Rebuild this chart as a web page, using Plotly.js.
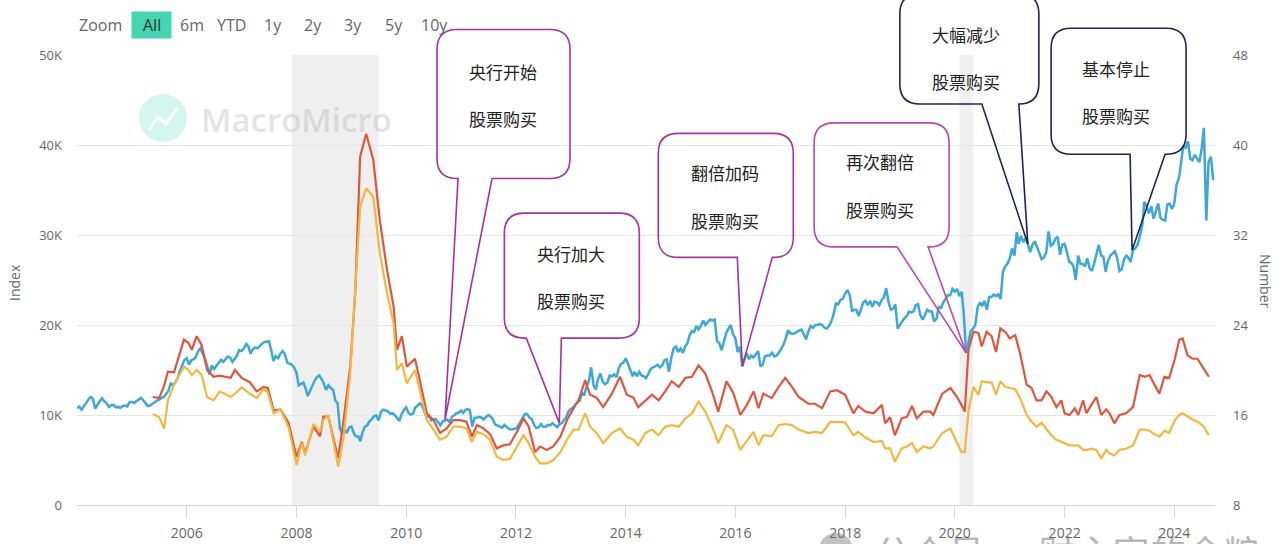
<!DOCTYPE html>
<html>
<head>
<meta charset="utf-8">
<script src="https://cdn.plot.ly/plotly-3.0.1.min.js"></script>
<style>
html,body{margin:0;padding:0;background:#ffffff;}
#chart{width:1280px;height:544px;}
</style>
</head>
<body>
<div id="chart"></div>
<script>
// ---------------- DATA ----------------
// Index (left axis): semi-monthly readings (1st and 16th of each month), Jan 2004 - Sep 2024
const blueValues = [
  // 2004
  10750,10950,10600,11000,11300,11700,12000,11800,10700,11200,11550,11850,11500,11300,10900,11100,11100,10850,10900,10800,11000,11050,10950,11450,
  // 2005
  11450,11350,11550,11700,11900,11650,11300,11000,11050,11250,11400,11600,11700,11900,12000,12400,12700,13500,13300,13600,14100,14900,15500,16100,
  // 2006
  16300,15600,16100,16200,16400,17050,17400,16900,16300,15450,14500,15500,15100,15450,15800,16150,15900,16150,16500,16400,15900,16250,16600,17200,
  // 2007
  17100,17400,17900,17600,16800,17300,17500,17400,17700,17900,18100,18150,18200,17250,16000,16550,16300,16800,17100,16750,15800,15700,15600,15300,
  // 2008
  14700,13300,13500,13600,13000,12100,12700,13300,13800,14200,14400,14000,13500,12800,13300,13000,12800,11600,11300,8500,7900,8400,8000,8600,
  // 2009
  8700,8000,7600,7600,7100,8100,8700,8850,9300,9550,9900,9950,9400,10350,10600,10500,10400,10150,10200,10000,9700,9350,10100,10550,
  // 2010
  10850,10200,10050,10150,10800,11100,11300,11050,10300,9750,9900,9400,9500,9550,9200,8850,9300,9400,9500,9200,9800,9950,10200,10250,
  // 2011
  10500,10250,10600,10650,10500,8700,9700,9700,9800,9700,9500,9800,10000,9850,9500,8950,8800,8700,8600,8900,8700,8450,8400,8450,
  // 2012
  8500,8800,9200,9700,10100,10100,9700,9550,8900,8550,8650,9000,8700,8700,8900,8850,9100,8850,8650,8950,9100,9450,9750,10400,
  // 2013
  10700,10800,11200,11400,11600,12400,12300,13200,13800,15300,13300,12800,14000,14600,13700,13400,13600,14400,14300,14500,14200,15200,15700,15800,
  // 2014
  16300,15700,14900,14300,14800,14300,14800,14400,14300,14100,14600,15100,15300,15400,15600,15300,15500,16100,16200,14800,16400,17400,17600,17000,
  // 2015
  17400,16900,17600,18000,18800,19300,19200,19900,19500,19900,20500,20000,20300,20600,20500,20600,18200,18000,17200,18300,19100,19600,20000,19000,
  // 2016
  18500,17000,17600,15400,16100,16900,16200,16600,16400,16700,17100,15400,15600,16500,16600,16600,16900,16500,16600,16900,17400,17800,18500,19400,
  // 2017
  19100,19000,19100,19300,19400,19500,18900,18400,19300,19900,19700,20000,20000,20100,20000,19700,19600,19900,20400,21200,22400,22300,22800,22900,
  // 2018
  23500,23900,23300,21500,21700,21700,21000,21800,22500,22700,22200,22700,22000,22600,22500,22200,22800,23100,24100,22600,21700,21800,22300,19600,
  // 2019
  20000,20400,20800,21000,21500,21400,21500,22200,22300,21100,20600,21100,21700,21500,21500,20400,20700,22000,21900,22500,22900,23300,23300,24000,
  // 2020
  23700,24000,23200,23700,21100,16900,18100,19300,19600,20000,22000,22500,22100,22700,21700,23100,23100,23400,23200,23400,22900,25900,26500,26800,
  // 2021
  27400,28500,27700,30300,29000,29900,29200,29700,29000,28100,28900,29300,28700,28000,27300,27500,28100,30400,28800,29000,29600,29800,27800,28900,
  // 2022
  29000,28100,27000,26900,26500,25000,27700,26800,26800,26500,27400,26300,26000,26800,27800,28900,27700,27600,25900,27100,27700,28000,28200,27500,
  // 2023
  26000,26200,27300,27700,27500,27000,28300,28500,28900,29800,31000,33700,33200,32400,33200,31800,32700,33500,31900,31700,31600,33400,33500,32900,
  // 2024
  33500,35600,36300,38500,39900,39700,40400,38500,38300,38900,38500,38100,39600,41900,31600,38100,38700,36100
];
const blueDates = blueValues.map((_, i) => {
  const yr = 2004 + Math.floor(i / 24);
  const mo = Math.floor((i % 24) / 2) + 1;
  return yr + '-' + String(mo).padStart(2, '0') + '-' + (i % 2 === 0 ? '01' : '16');
});

// Number (right axis): two series sampled on the same dates
const ratioDates = ["2005-05-20","2005-07-01","2005-08-03","2005-08-28","2005-10-08","2005-12-13","2006-01-12","2006-02-03","2006-03-08","2006-04-10",
"2006-05-16","2006-06-28","2006-08-08","2006-10-20","2006-11-18","2007-01-01","2007-02-25","2007-04-12","2007-05-26","2007-06-24",
"2007-08-03","2007-09-16","2007-11-10","2008-01-01","2008-02-06","2008-02-28","2008-04-23","2008-06-06","2008-06-28","2008-07-31",
"2008-10-05","2008-11-10","2008-12-24","2009-01-26","2009-02-28","2009-04-09","2009-05-26","2009-07-09","2009-08-26","2009-10-09",
"2009-10-31","2009-12-03","2010-01-05","2010-02-28","2010-04-01","2010-05-18","2010-07-01","2010-08-14","2010-09-27","2010-11-10",
"2010-12-24","2011-02-06","2011-03-14","2011-04-16","2011-05-30","2011-07-13","2011-08-26","2011-10-09","2011-11-22","2012-01-12",
"2012-02-21","2012-03-25","2012-05-08","2012-06-10","2012-07-24","2012-09-06","2012-10-23","2012-12-06","2013-01-19","2013-02-21",
"2013-04-06","2013-05-08","2013-06-21","2013-08-04","2013-10-01","2013-11-24","2014-01-08","2014-02-21","2014-03-25","2014-05-12",
"2014-06-25","2014-08-08","2014-09-21","2014-11-03","2014-12-20","2015-02-03","2015-03-18","2015-05-01","2015-06-14","2015-07-27",
"2015-09-09","2015-11-03","2015-12-17","2016-02-03","2016-03-18","2016-05-01","2016-06-03","2016-07-05","2016-08-29","2016-10-15",
"2016-11-28","2017-01-12","2017-02-25","2017-05-01","2017-06-14","2017-07-31","2017-09-24","2017-11-07","2018-01-01","2018-02-25",
"2018-03-29","2018-05-16","2018-07-09","2018-09-02","2018-09-24","2018-10-27","2018-11-28","2019-01-12","2019-02-17","2019-03-22",
"2019-04-23","2019-06-06","2019-07-20","2019-08-11","2019-10-09","2019-12-03","2020-01-16","2020-02-14","2020-03-07","2020-04-01",
"2020-05-04","2020-06-06","2020-06-28","2020-07-31","2020-09-02","2020-10-01","2020-10-30","2020-12-01","2021-01-01","2021-02-06",
"2021-03-10","2021-04-23","2021-05-26","2021-06-28","2021-07-31","2021-09-02","2021-10-05","2021-11-07","2021-12-10","2022-01-01",
"2022-02-03","2022-03-10","2022-04-01","2022-05-04","2022-05-26","2022-06-28","2022-07-31","2022-09-02","2022-10-05","2022-10-27",
"2022-11-28","2023-01-01","2023-02-14","2023-04-01","2023-05-16","2023-06-18","2023-07-20","2023-08-22","2023-09-24","2023-10-27",
"2023-11-28","2024-01-05","2024-02-03","2024-02-25","2024-03-29","2024-05-01","2024-06-03","2024-07-16","2024-08-18"];

const redValues = [
17.6,17.5,18.6,19.85,19.8,22.7,22.4,21.8,23.0,22.2,
20.0,19.4,19.5,19.3,20.0,19.3,18.9,18.1,18.5,18.4,
16.4,16.5,15.3,12.3,13.6,12.6,15.0,14.1,15.85,15.85,
12.15,15.55,20.3,26.8,38.96,41.0,38.7,33.3,28.9,25.6,
21.8,23.0,20.3,21.0,19.1,16.15,15.55,14.4,14.8,15.55,
15.55,15.4,14.07,15.1,14.8,14.3,13.04,13.3,13.4,14.6,
15.7,15.0,12.7,13.2,12.9,13.2,14.07,15.55,16.6,17.3,
19.1,17.8,17.55,16.7,17.9,19.4,17.8,17.55,16.7,17.3,
17.8,17.3,18.1,19.0,18.5,19.3,19.4,20.4,19.7,18.2,
16.3,19.0,18.0,16.0,16.9,18.1,16.6,17.9,17.5,18.5,
19.3,18.5,17.6,17.0,17.0,16.6,18.1,18.2,17.8,16.15,
16.8,16.3,16.15,16.9,15.26,15.8,14.2,15.7,15.85,16.8,
15.7,16.3,16.3,16.0,17.9,18.4,17.6,16.9,16.3,21.8,
23.4,23.3,22.1,23.4,23.0,21.6,23.7,23.4,22.8,23.1,
21.5,18.7,18.4,17.3,17.3,18.1,17.6,16.7,17.3,16.15,
16.0,16.6,16.0,17.3,16.15,16.9,17.6,16.0,16.5,16.15,
15.26,16.0,16.15,16.7,19.55,19.4,19.55,18.7,17.9,19.4,
19.3,21.0,22.7,22.8,21.3,21.0,21.0,20.1,19.4];

const orangeValues = [
16.1,15.8,14.8,17.3,18.7,20.3,20.0,19.55,20.0,19.55,
17.6,17.3,18.1,17.6,17.9,18.45,17.9,17.5,18.3,18.0,
16.15,16.5,14.9,11.55,13.5,12.4,15.2,14.5,15.55,16.0,
11.4,14.07,19.7,27.4,34.5,36.15,35.4,30.4,26.8,24.15,
20.0,20.6,18.8,20.0,18.2,15.55,14.7,13.8,14.07,14.96,
14.96,14.8,13.6,14.5,14.3,13.8,12.3,12.0,12.1,13.3,
14.2,13.5,12.3,11.7,11.7,12.0,12.7,13.8,14.7,14.7,
16.15,14.96,14.4,13.5,14.4,14.8,14.07,13.8,13.3,14.4,
14.7,14.2,14.96,15.1,14.96,15.7,16.15,17.2,16.3,15.1,
13.5,15.1,14.7,12.9,13.7,14.5,13.3,14.2,14.1,15.1,
15.2,15.1,14.7,14.4,14.5,14.4,15.4,15.4,15.35,14.2,
14.5,14.0,13.6,13.7,13.04,13.04,11.85,13.04,13.2,13.5,
12.7,13.2,13.04,13.2,14.4,14.8,13.5,12.7,12.7,16.4,
18.5,17.8,19.0,18.9,18.9,17.8,19.0,18.5,18.4,18.3,
17.5,16.0,15.4,14.96,15.3,14.7,14.2,13.8,13.6,13.5,
13.3,13.3,13.3,12.9,12.9,13.0,12.9,12.15,12.9,12.6,
12.4,12.9,13.0,13.3,14.7,14.7,14.6,14.3,14.07,14.6,
14.4,15.55,16.0,16.15,15.85,15.6,15.4,14.96,14.2];

// Shaded periods
const shadeStarts = ["2007-12-01", "2020-02-01"];
const shadeEnds   = ["2009-06-30", "2020-04-30"];

// Callouts (tail tip at a point on the Index line)
const calloutDates  = ["2010-09-16", "2012-10-16", "2016-02-16", "2020-03-16", "2021-05-01", "2023-03-26"];
const calloutValues = [9500, 9100, 15400, 16900, 29000, 28300];
const calloutLine1  = ["央行开始", "央行加大", "翻倍加码", "再次翻倍", "大幅减少", "基本停止"];
const calloutLine2  = ["股票购买", "股票购买", "股票购买", "股票购买", "股票购买", "股票购买"];

// Axes ticks
const leftRange = [0, 50000];
const rightRange = [8, 48];
const xRange = ["2004-01-01", "2024-09-28"];
const leftTickVals = [0, 10000, 20000, 30000, 40000, 50000];
const leftTickText = ["0", "10K", "20K", "30K", "40K", "50K"];
const rightTickVals = [8, 16, 24, 32, 40, 48];
const xTickText = ["2006","2008","2010","2012","2014","2016","2018","2020","2022","2024"];
const xTickVals = xTickText.map(y => y + "-01-01");
const rangeLabels = ["Zoom", "All", "6m", "YTD", "1y", "2y", "3y", "5y", "10y"];

// ---------------- LAYOUT HELPERS ----------------
const W = 1280, H = 544, ML = 77, MR = 65, MT = 55, MB = 39;
const PW = W - ML - MR, PH = H - MT - MB;
const px = x => (x - ML) / PW;
const py = y => (H - MB - y) / PH;

// bubble geometry in pixels relative to the tip (y up): [L, R, T, B, tailA, tailB, textDx, line1Dy, line2Dy]
const bubbleGeom = [
  [-8, 125, 390, 241, 13, 47, 58, 348, 301],
  [-55, 80, 210, 85, -33, 2, 12, 170, 123],
  [-84, 51, 233, 109, -5, 30, -17, 194, 146],
  [-152, -17, 230, 106, -69, -38, -86, 191, 143],
  [-128, 11, 250, 140, -46, -9, -62, 210, 163],
  [-81, 54, 222, 96, -2, 33, -16, 182, 135]
];
const bubbleColors = ["#a8329a", "#a8329a", "#a8329a", "#bf47a6", "#1f2552", "#1f2552"];

function bubblePath(L, R, T, B, a, b, r) {
  return `M${L + r},${T} L${R - r},${T} Q${R},${T} ${R},${T - r} L${R},${B + r} Q${R},${B} ${R - r},${B} ` +
         `L${b},${B} L0,0 L${a},${B} L${L + r},${B} Q${L},${B} ${L},${B + r} L${L},${T - r} Q${L},${T} ${L + r},${T} Z`;
}

// ---------------- TRACES ----------------
const traces = [
  { type: "scatter", mode: "lines", x: blueDates, y: blueValues, yaxis: "y",
    line: { color: "#3da8d8", width: 2.5 }, hoverinfo: "skip" },
  { type: "scatter", mode: "lines", x: ratioDates, y: redValues, yaxis: "y2",
    line: { color: "#e0553d", width: 2.2 }, hoverinfo: "skip" },
  { type: "scatter", mode: "lines", x: ratioDates, y: orangeValues, yaxis: "y2",
    line: { color: "#f3b63f", width: 2.2 }, hoverinfo: "skip" }
];

// ---------------- SHAPES ----------------
const shapes = [];
shadeStarts.forEach((s, i) => {
  shapes.push({ type: "rect", xref: "x", yref: "paper", x0: s, x1: shadeEnds[i], y0: 0, y1: 1,
    fillcolor: "#efefef", line: { width: 0 }, layer: "below" });
});
// "All" button
shapes.push({ type: "rect", xref: "paper", yref: "paper", x0: px(131.5), x1: px(171.5), y0: py(38.5), y1: py(11.5),
  fillcolor: "#45d5b1", line: { width: 0 }, layer: "above" });
// MacroMicro logo
shapes.push({ type: "circle", xref: "paper", yref: "paper", x0: px(139), x1: px(187), y0: py(142), y1: py(94),
  fillcolor: "rgba(64,214,176,0.22)", line: { width: 0 }, layer: "below" });
shapes.push({ type: "path", xref: "paper", yref: "paper",
  path: `M${px(149)},${py(130)} L${px(158)},${py(117)} L${px(166)},${py(124)} L${px(177)},${py(108)}`,
  line: { color: "rgba(255,255,255,0.9)", width: 3 }, layer: "below" });
// bottom watermark icon
shapes.push({ type: "circle", xref: "paper", yref: "paper", x0: px(819), x1: px(853), y0: py(567), y1: py(533),
  fillcolor: "rgba(120,120,120,0.45)", line: { width: 0 }, layer: "above" });
// callout bubbles
calloutDates.forEach((d, i) => {
  const g = bubbleGeom[i];
  shapes.push({ type: "path", xref: "x", yref: "paper", xsizemode: "pixel", ysizemode: "pixel",
    xanchor: d, yanchor: (calloutValues[i] - leftRange[0]) / (leftRange[1] - leftRange[0]),
    path: bubblePath(g[0], g[1], g[2], g[3], g[4], g[5], 20),
    fillcolor: "rgba(0,0,0,0)", line: { color: bubbleColors[i], width: 1.6 }, layer: "above" });
});

// ---------------- ANNOTATIONS ----------------
const annotations = [];
const rangeX = [100.5, 151.5, 191.5, 231.5, 273, 312.5, 353, 394, 434];
rangeLabels.forEach((t, i) => {
  annotations.push({ xref: "paper", yref: "paper", x: px(rangeX[i]), y: py(25), text: t, showarrow: false,
    xanchor: "center", yanchor: "middle",
    font: { family: "Open Sans, Noto Sans, sans-serif", size: 16, color: i === 1 ? "#333333" : "#666666" } });
});
annotations.push({ xref: "paper", yref: "paper", x: px(199), y: py(119), text: "MacroMicro", showarrow: false,
  xanchor: "left", yanchor: "middle",
  font: { family: "Open Sans, sans-serif", size: 33, color: "rgba(175,175,175,0.35)", weight: 600 } });
annotations.push({ xref: "paper", yref: "paper", x: px(14), y: py(283), text: "Index", showarrow: false,
  textangle: -90, xanchor: "center", yanchor: "middle",
  font: { family: "Open Sans, Noto Sans, sans-serif", size: 14, color: "#666666" } });
annotations.push({ xref: "paper", yref: "paper", x: px(1266), y: py(281), text: "Number", showarrow: false,
  textangle: 90, xanchor: "center", yanchor: "middle",
  font: { family: "Open Sans, Noto Sans, sans-serif", size: 14, color: "#666666" } });
annotations.push({ xref: "paper", yref: "paper", x: px(872), y: py(523), text: "公众号 · 财主家的余粮", showarrow: false,
  xanchor: "left", yanchor: "top",
  font: { family: "Noto Sans CJK SC, sans-serif", size: 37, color: "rgba(110,110,110,0.5)" } });
calloutDates.forEach((d, i) => {
  const g = bubbleGeom[i];
  [calloutLine1[i], calloutLine2[i]].forEach((t, k) => {
    annotations.push({ xref: "x", yref: "y", x: d, y: calloutValues[i], text: t, showarrow: false,
      xanchor: "center", yanchor: "middle", xshift: g[6], yshift: k === 0 ? g[7] : g[8],
      font: { family: "Noto Sans CJK SC, sans-serif", size: 17, color: "#222222" } });
  });
});

// ---------------- LAYOUT ----------------
const tickFont = { family: "Open Sans, Noto Sans, sans-serif", size: 13, color: "#666666" };
const layout = {
  width: W, height: H,
  margin: { l: ML, r: MR, t: MT, b: MB, pad: 0 },
  paper_bgcolor: "#ffffff", plot_bgcolor: "#ffffff",
  showlegend: false,
  font: tickFont,
  xaxis: { type: "date", range: xRange, tickvals: xTickVals, ticktext: xTickText,
    showgrid: false, zeroline: false, showline: true, linecolor: "#d8d8d8", linewidth: 1,
    ticks: "outside", ticklen: 12, tickcolor: "#d8d8d8", ticklabelstandoff: 3,
    tickfont: { family: "Open Sans, Noto Sans, sans-serif", size: 14, color: "#666666" },
    automargin: false, fixedrange: true },
  yaxis: { range: leftRange, tickvals: leftTickVals, ticktext: leftTickText,
    showgrid: true, gridcolor: "#e6e6e6", gridwidth: 1, zeroline: false, showline: false,
    ticks: "", ticklabelstandoff: 14, tickfont: tickFont, automargin: false, fixedrange: true },
  yaxis2: { range: rightRange, overlaying: "y", side: "right", tickvals: rightTickVals,
    showgrid: false, zeroline: false, showline: false, ticks: "", ticklabelstandoff: 17,
    tickfont: tickFont, automargin: false, fixedrange: true },
  shapes: shapes,
  annotations: annotations
};

Plotly.newPlot("chart", traces, layout, { staticPlot: true, displayModeBar: false });
</script>
</body>
</html>
